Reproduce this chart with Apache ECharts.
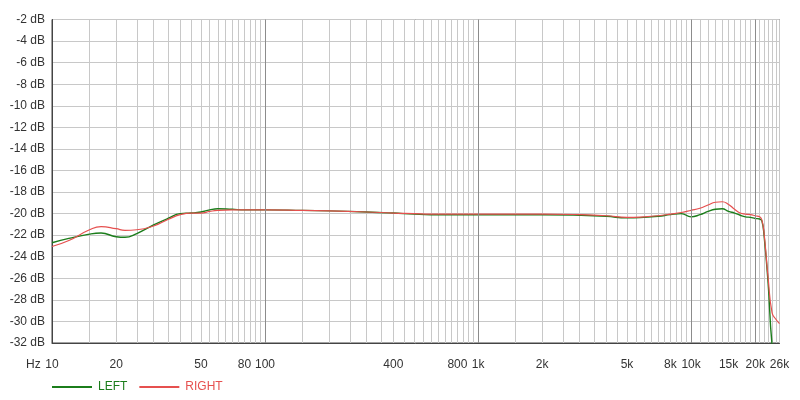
<!DOCTYPE html>
<html>
<head>
<meta charset="utf-8">
<script src="https://cdn.jsdelivr.net/npm/echarts@6/dist/echarts.min.js"></script>
<style>html,body{margin:0;padding:0;background:#fff}#c{width:800px;height:400px}</style>
</head>
<body>
<div id="c"></div>
<script>
const freqs = [10,12,15,17,20,22,25,30,35,40,45,50,55,60,70,80,100,150,200,300,400,500,600,800,1000,1500,2000,3000,4000,5000,6000,7000,8000,9000,10000,11000,12000,13000,14000,15000,16000,17000,18000,19000,20000,21000,21500,22000,23000,24000,25000,26000];
const leftDb = [-22.7,-22.3,-21.9,-21.8,-22.15,-22.2,-21.85,-21.05,-20.45,-20.0,-19.95,-19.85,-19.65,-19.55,-19.6,-19.65,-19.65,-19.7,-19.75,-19.85,-19.95,-20.05,-20.1,-20.1,-20.1,-20.1,-20.1,-20.15,-20.25,-20.4,-20.35,-20.25,-20.1,-20.0,-20.3,-20.1,-19.8,-19.6,-19.55,-19.8,-19.95,-20.15,-20.3,-20.35,-20.45,-20.5,-20.7,-22.0,-26.5,-32.2,-34,-35];
const rightDb = [-23.05,-22.5,-21.5,-21.2,-21.4,-21.55,-21.5,-21.15,-20.55,-20.1,-19.95,-19.95,-19.8,-19.7,-19.65,-19.65,-19.65,-19.7,-19.75,-19.85,-19.95,-20.0,-20.05,-20.05,-20.05,-20.05,-20.05,-20.1,-20.2,-20.35,-20.3,-20.2,-20.05,-19.9,-19.7,-19.5,-19.2,-18.95,-18.9,-19.15,-19.6,-19.95,-20.05,-20.1,-20.2,-20.3,-20.6,-21.8,-26.0,-29.2,-29.8,-30.2];
const xLabelValues = [10,20,50,80,100,400,800,1000,2000,5000,8000,10000,15000,20000,26000];
const majorGridValues = [100,1000,10000,20000];
const seriesNames = ['LEFT','RIGHT'];

// minor grid frequencies: 5 steps per decade up to 10k, 1k steps above
const gridValues = [];
[[10,100,5],[100,1000,50],[1000,10000,500],[10000,26000,1000]].forEach(([a,b,s]) => {
  for (let v = a; v < b; v += s) gridValues.push(v);
});
gridValues.push(26000);

const green = '#1b7d1b', red = '#e6504f';
const pair = a => freqs.map((f, i) => [f, a[i]]);
const fmtHz = v => { v = Math.round(v); return v >= 1000 ? (Math.round(v / 100) / 10) + 'k' : String(v); };

const chart = echarts.init(document.getElementById('c'), null, {renderer: 'canvas'});
chart.setOption({
  animation: false,
  backgroundColor: '#fff',
  textStyle: {fontFamily: 'Liberation Sans, Arial, sans-serif'},
  grid: {left: 52, right: 20.5, top: 19.5, bottom: 57, show: true, borderColor: '#444', borderWidth: 1, backgroundColor: 'transparent'},
  legend: {
    left: 47, top: 376, itemWidth: 40, itemHeight: 2, itemGap: 12, icon: 'rect',
    data: [
      {name: seriesNames[0], textStyle: {color: green}},
      {name: seriesNames[1], textStyle: {color: red}}
    ],
    textStyle: {fontSize: 12, padding: [0, 0, 0, 1]}
  },
  graphic: [{type: 'text', left: 26, top: 359, style: {text: 'Hz', fontSize: 12, fill: '#333', fontFamily: 'Liberation Sans, Arial, sans-serif'}}],
  xAxis: {
    type: 'log', logBase: 10, min: 10, max: 26000,
    axisLine: {show: true, lineStyle: {color: '#444'}},
    axisTick: {show: false, customValues: gridValues},
    axisLabel: {customValues: xLabelValues, formatter: fmtHz, color: '#333', fontSize: 12, margin: 16, hideOverlap: false},
    splitLine: {show: true, lineStyle: {color: '#c8c8c8', width: 1}},
    minorSplitLine: {show: false}
  },
  yAxis: {
    type: 'value', min: -32, max: -2, interval: 2,
    axisLine: {show: true, lineStyle: {color: '#444'}},
    axisTick: {show: false},
    axisLabel: {formatter: '{value} dB', color: '#333', fontSize: 12, margin: 7},
    splitLine: {show: true, lineStyle: {color: '#c8c8c8', width: 1}}
  },
  series: [
    {
      name: seriesNames[0], type: 'line', data: pair(leftDb), smooth: 0.5, symbol: 'none',
      lineStyle: {color: green, width: 1.4}, itemStyle: {color: green}, z: 3, clip: true,
      markLine: {silent: true, symbol: 'none', label: {show: false}, animation: false,
        lineStyle: {color: '#8c8c8c', type: 'solid', width: 1},
        data: majorGridValues.map(v => ({xAxis: v}))}
    },
    {
      name: seriesNames[1], type: 'line', data: pair(rightDb), smooth: 0.5, symbol: 'none',
      lineStyle: {color: red, width: 1.2}, itemStyle: {color: red}, z: 4, clip: true
    }
  ]
});
</script>
</body>
</html>
